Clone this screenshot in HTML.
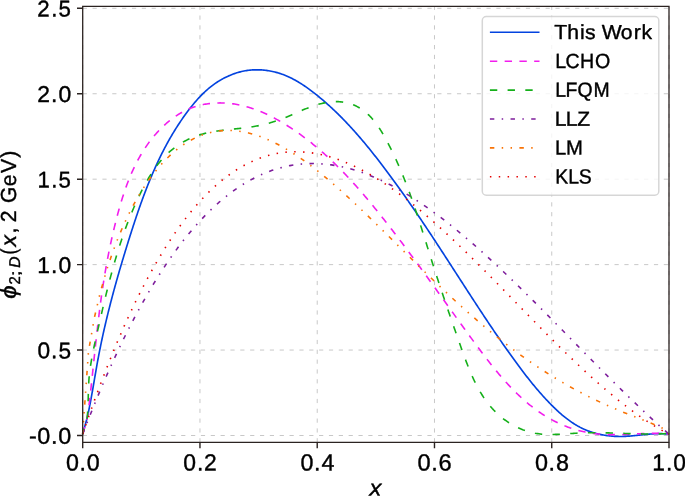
<!DOCTYPE html>
<html><head><meta charset="utf-8"><style>
html,body{margin:0;padding:0;background:#fff;width:685px;height:496px;overflow:hidden}
svg{display:block;will-change:transform}
text{font-family:"Liberation Sans",sans-serif}
</style></head><body>
<svg width="685" height="496" viewBox="0 0 685 496" font-family="Liberation Sans, sans-serif" text-rendering="geometricPrecision">
<rect width="685" height="496" fill="#fff"/>
<path d="M82.70,435.50H669.00M82.70,350.06H669.00M82.70,264.62H669.00M82.70,179.18H669.00M82.70,93.74H669.00M82.70,8.30H669.00" stroke="#c8c8c8" stroke-width="1" stroke-dasharray="4.2 5.649" fill="none"/>
<path d="M82.70,442.40V6.30M199.96,442.40V6.30M317.22,442.40V6.30M434.48,442.40V6.30M551.74,442.40V6.30M669.00,442.40V6.30" stroke="#c8c8c8" stroke-width="1" stroke-dasharray="4.2 5.63" fill="none"/>
<g fill="none" stroke-linejoin="round">
<path d="M82.60,434.30 L87.00,418.50 L87.27,417.30 L87.54,416.10 L87.81,414.89 L88.07,413.68 L88.33,412.48 L88.59,411.27 L88.84,410.06 L89.09,408.84 L89.33,407.63 L89.58,406.41 L89.82,405.20 L90.05,403.98 L90.29,402.76 L90.52,401.54 L90.75,400.32 L90.98,399.09 L91.21,397.87 L91.43,396.64 L91.65,395.42 L91.87,394.19 L92.09,392.96 L92.31,391.74 L92.53,390.51 L92.74,389.28 L92.96,388.05 L93.17,386.82 L93.38,385.59 L93.59,384.36 L93.81,383.13 L94.02,381.89 L94.23,380.66 L94.44,379.43 L94.65,378.20 L94.86,376.97 L95.07,375.74 L95.28,374.50 L95.49,373.27 L95.71,372.04 L95.92,370.81 L96.13,369.58 L96.35,368.35 L96.57,367.12 L96.78,365.89 L97.00,364.66 L97.22,363.43 L97.45,362.20 L97.67,360.97 L97.90,359.75 L98.13,358.52 L98.36,357.29 L98.59,356.07 L98.82,354.85 L99.06,353.62 L99.30,352.40 L99.54,351.18 L99.78,349.96 L100.02,348.74 L100.27,347.52 L100.52,346.30 L100.76,345.08 L101.02,343.87 L101.27,342.65 L101.52,341.43 L101.78,340.22 L102.04,339.00 L102.30,337.79 L102.56,336.58 L102.83,335.36 L103.10,334.15 L103.36,332.94 L103.63,331.73 L103.90,330.52 L104.18,329.31 L104.45,328.10 L104.73,326.89 L105.01,325.69 L105.29,324.48 L105.57,323.27 L105.85,322.07 L106.14,320.86 L106.43,319.65 L106.72,318.45 L107.01,317.25 L107.30,316.04 L107.59,314.84 L107.89,313.64 L108.18,312.43 L108.48,311.23 L108.78,310.03 L109.08,308.83 L109.39,307.63 L109.69,306.43 L110.00,305.23 L110.30,304.03 L110.61,302.83 L110.92,301.63 L111.24,300.43 L111.55,299.24 L111.87,298.04 L112.18,296.84 L112.50,295.64 L112.82,294.45 L113.14,293.25 L113.46,292.06 L113.79,290.86 L114.11,289.66 L114.44,288.47 L114.77,287.28 L115.10,286.08 L115.43,284.89 L115.76,283.69 L116.09,282.50 L116.43,281.31 L116.76,280.11 L117.10,278.92 L117.44,277.73 L117.78,276.53 L118.12,275.34 L118.46,274.15 L118.80,272.96 L119.15,271.77 L119.49,270.57 L119.84,269.38 L120.19,268.19 L120.54,267.00 L120.89,265.81 L121.24,264.62 L121.59,263.43 L121.95,262.24 L122.30,261.05 L122.66,259.85 L123.02,258.66 L123.38,257.47 L123.74,256.28 L124.10,255.09 L124.46,253.90 L124.82,252.71 L125.18,251.52 L125.55,250.33 L125.92,249.14 L126.28,247.95 L126.65,246.76 L127.02,245.57 L127.39,244.38 L127.76,243.19 L128.13,242.00 L128.50,240.81 L128.88,239.62 L129.25,238.43 L129.63,237.24 L130.00,236.05 L130.38,234.85 L130.76,233.66 L131.14,232.47 L131.52,231.28 L131.90,230.09 L132.29,228.90 L132.67,227.71 L133.06,226.52 L133.44,225.33 L133.83,224.15 L134.22,222.96 L134.62,221.77 L135.01,220.58 L135.40,219.39 L135.80,218.21 L136.20,217.02 L136.60,215.84 L137.00,214.65 L137.41,213.47 L137.81,212.28 L138.22,211.10 L138.63,209.92 L139.04,208.73 L139.45,207.55 L139.87,206.37 L140.29,205.19 L140.70,204.01 L141.13,202.84 L141.55,201.66 L141.98,200.48 L142.41,199.31 L142.84,198.14 L143.27,196.96 L143.70,195.79 L144.14,194.62 L144.58,193.45 L145.03,192.28 L145.47,191.12 L145.92,189.95 L146.37,188.79 L146.82,187.62 L147.28,186.46 L147.74,185.30 L148.20,184.14 L148.67,182.98 L149.14,181.83 L149.61,180.67 L150.08,179.52 L150.56,178.37 L151.04,177.22 L151.52,176.07 L152.00,174.92 L152.49,173.78 L152.99,172.63 L153.48,171.49 L153.98,170.35 L154.48,169.21 L154.99,168.08 L155.50,166.94 L156.01,165.81 L156.53,164.68 L157.05,163.55 L157.57,162.42 L158.10,161.30 L158.63,160.18 L159.16,159.06 L159.70,157.94 L160.24,156.82 L160.79,155.71 L161.34,154.59 L161.89,153.49 L162.45,152.38 L163.01,151.27 L163.58,150.17 L164.15,149.07 L164.72,147.97 L165.30,146.88 L165.88,145.78 L166.47,144.69 L167.06,143.61 L167.66,142.52 L168.26,141.44 L168.86,140.36 L169.47,139.28 L170.08,138.20 L170.70,137.13 L171.32,136.06 L171.95,135.00 L172.58,133.93 L173.21,132.87 L173.86,131.81 L174.50,130.76 L175.15,129.71 L175.81,128.66 L176.47,127.61 L177.13,126.57 L177.80,125.53 L178.48,124.49 L179.16,123.46 L179.84,122.43 L180.53,121.40 L181.23,120.37 L181.93,119.35 L182.64,118.34 L183.35,117.32 L184.07,116.31 L184.79,115.30 L185.52,114.30 L186.25,113.30 L186.99,112.30 L187.73,111.31 L188.48,110.32 L189.24,109.33 L190.00,108.35 L190.77,107.37 L191.54,106.39 L192.32,105.42 L193.11,104.46 L193.90,103.50 L194.71,102.55 L195.51,101.61 L196.33,100.67 L197.15,99.74 L197.99,98.81 L198.83,97.90 L199.68,96.99 L200.53,96.09 L201.40,95.20 L202.28,94.32 L203.16,93.45 L204.06,92.59 L204.96,91.74 L205.88,90.90 L206.80,90.07 L207.74,89.25 L208.69,88.45 L209.64,87.65 L210.61,86.88 L211.59,86.11 L212.58,85.36 L213.59,84.62 L214.60,83.89 L215.62,83.18 L216.65,82.48 L217.70,81.80 L218.75,81.13 L219.81,80.48 L220.89,79.85 L221.97,79.23 L223.06,78.63 L224.16,78.05 L225.27,77.48 L226.38,76.93 L227.51,76.40 L228.64,75.88 L229.78,75.39 L230.93,74.91 L232.08,74.46 L233.24,74.02 L234.41,73.60 L235.59,73.21 L236.77,72.83 L237.96,72.48 L239.15,72.14 L240.35,71.83 L241.56,71.54 L242.77,71.27 L243.98,71.03 L245.21,70.80 L246.43,70.60 L247.66,70.43 L248.89,70.27 L250.13,70.14 L251.37,70.03 L252.61,69.94 L253.86,69.88 L255.10,69.84 L256.35,69.81 L257.60,69.81 L258.84,69.84 L260.09,69.88 L261.34,69.94 L262.58,70.03 L263.83,70.14 L265.07,70.26 L266.31,70.41 L267.54,70.58 L268.78,70.77 L270.01,70.98 L271.23,71.21 L272.45,71.46 L273.67,71.73 L274.88,72.02 L276.08,72.33 L277.28,72.66 L278.47,73.01 L279.65,73.38 L280.83,73.76 L282.00,74.17 L283.16,74.59 L284.31,75.03 L285.46,75.49 L286.59,75.97 L287.72,76.46 L288.85,76.97 L289.96,77.49 L291.07,78.03 L292.18,78.59 L293.27,79.16 L294.36,79.74 L295.44,80.34 L296.52,80.95 L297.59,81.57 L298.66,82.20 L299.71,82.85 L300.77,83.50 L301.81,84.17 L302.85,84.85 L303.89,85.54 L304.92,86.24 L305.94,86.94 L306.96,87.66 L307.98,88.38 L308.99,89.11 L309.99,89.85 L310.99,90.59 L311.98,91.34 L312.97,92.10 L313.96,92.86 L314.94,93.63 L315.92,94.40 L316.89,95.18 L317.86,95.96 L318.83,96.75 L319.79,97.54 L320.75,98.33 L321.70,99.13 L322.65,99.94 L323.59,100.74 L324.53,101.55 L325.47,102.37 L326.40,103.19 L327.33,104.01 L328.26,104.84 L329.18,105.67 L330.10,106.51 L331.02,107.35 L331.93,108.19 L332.83,109.04 L333.74,109.89 L334.64,110.74 L335.54,111.60 L336.43,112.46 L337.32,113.32 L338.21,114.19 L339.09,115.06 L339.97,115.94 L340.85,116.82 L341.72,117.70 L342.59,118.58 L343.46,119.47 L344.32,120.36 L345.19,121.26 L346.04,122.15 L346.90,123.06 L347.75,123.96 L348.60,124.87 L349.45,125.77 L350.29,126.69 L351.13,127.60 L351.97,128.52 L352.80,129.44 L353.63,130.36 L354.46,131.29 L355.29,132.22 L356.11,133.15 L356.93,134.08 L357.75,135.02 L358.57,135.95 L359.38,136.89 L360.19,137.84 L361.00,138.78 L361.81,139.73 L362.61,140.68 L363.41,141.63 L364.21,142.58 L365.01,143.54 L365.80,144.50 L366.60,145.45 L367.39,146.42 L368.17,147.38 L368.96,148.34 L369.74,149.31 L370.53,150.28 L371.31,151.25 L372.08,152.22 L372.86,153.19 L373.63,154.17 L374.40,155.14 L375.18,156.12 L375.94,157.10 L376.71,158.08 L377.47,159.06 L378.24,160.04 L379.00,161.03 L379.76,162.01 L380.52,163.00 L381.27,163.99 L382.03,164.98 L382.78,165.97 L383.53,166.96 L384.29,167.95 L385.03,168.94 L385.78,169.93 L386.53,170.93 L387.27,171.92 L388.02,172.92 L388.76,173.91 L389.50,174.91 L390.24,175.91 L390.98,176.91 L391.71,177.91 L392.45,178.91 L393.18,179.91 L393.92,180.92 L394.65,181.92 L395.38,182.93 L396.11,183.93 L396.83,184.94 L397.56,185.94 L398.29,186.95 L399.01,187.96 L399.73,188.97 L400.45,189.98 L401.18,190.99 L401.89,192.00 L402.61,193.02 L403.33,194.03 L404.05,195.04 L404.76,196.06 L405.48,197.07 L406.19,198.09 L406.90,199.11 L407.61,200.13 L408.32,201.14 L409.03,202.16 L409.74,203.18 L410.44,204.20 L411.15,205.22 L411.86,206.25 L412.56,207.27 L413.26,208.29 L413.97,209.31 L414.67,210.34 L415.37,211.36 L416.07,212.39 L416.77,213.41 L417.46,214.44 L418.16,215.47 L418.86,216.50 L419.55,217.52 L420.25,218.55 L420.94,219.58 L421.64,220.61 L422.33,221.64 L423.02,222.67 L423.71,223.71 L424.40,224.74 L425.09,225.77 L425.78,226.80 L426.47,227.84 L427.16,228.87 L427.85,229.90 L428.54,230.94 L429.22,231.98 L429.91,233.01 L430.59,234.05 L431.28,235.08 L431.96,236.12 L432.65,237.16 L433.33,238.20 L434.01,239.23 L434.69,240.27 L435.38,241.31 L436.06,242.35 L436.74,243.39 L437.42,244.43 L438.10,245.47 L438.78,246.51 L439.46,247.55 L440.14,248.59 L440.82,249.64 L441.50,250.68 L442.17,251.72 L442.85,252.76 L443.53,253.80 L444.21,254.85 L444.88,255.89 L445.56,256.93 L446.24,257.98 L446.91,259.02 L447.59,260.07 L448.27,261.11 L448.94,262.16 L449.62,263.20 L450.29,264.25 L450.97,265.29 L451.65,266.34 L452.32,267.38 L453.00,268.43 L453.67,269.47 L454.35,270.52 L455.02,271.57 L455.70,272.61 L456.37,273.66 L457.05,274.70 L457.72,275.75 L458.40,276.80 L459.07,277.84 L459.75,278.89 L460.42,279.94 L461.10,280.98 L461.78,282.03 L462.45,283.07 L463.13,284.12 L463.80,285.17 L464.48,286.21 L465.16,287.26 L465.83,288.30 L466.51,289.35 L467.19,290.39 L467.86,291.44 L468.54,292.48 L469.22,293.53 L469.90,294.57 L470.58,295.62 L471.26,296.66 L471.93,297.71 L472.61,298.75 L473.29,299.79 L473.97,300.84 L474.66,301.88 L475.34,302.92 L476.02,303.96 L476.70,305.00 L477.38,306.05 L478.07,307.09 L478.75,308.13 L479.43,309.17 L480.12,310.21 L480.80,311.25 L481.49,312.28 L482.17,313.32 L482.86,314.36 L483.55,315.40 L484.23,316.43 L484.92,317.47 L485.61,318.51 L486.30,319.54 L486.99,320.58 L487.68,321.61 L488.37,322.64 L489.07,323.68 L489.76,324.71 L490.45,325.74 L491.15,326.77 L491.84,327.80 L492.54,328.83 L493.24,329.86 L493.93,330.89 L494.63,331.91 L495.33,332.94 L496.03,333.97 L496.73,334.99 L497.43,336.02 L498.14,337.04 L498.84,338.06 L499.54,339.08 L500.25,340.10 L500.96,341.12 L501.66,342.14 L502.37,343.16 L503.08,344.18 L503.79,345.20 L504.50,346.21 L505.22,347.23 L505.93,348.24 L506.64,349.25 L507.36,350.27 L508.08,351.28 L508.79,352.29 L509.51,353.29 L510.23,354.30 L510.95,355.31 L511.68,356.31 L512.40,357.32 L513.12,358.32 L513.85,359.32 L514.58,360.33 L515.31,361.33 L516.03,362.32 L516.77,363.32 L517.50,364.32 L518.23,365.31 L518.97,366.31 L519.71,367.30 L520.45,368.29 L521.19,369.28 L521.93,370.27 L522.68,371.25 L523.43,372.24 L524.18,373.22 L524.93,374.20 L525.68,375.18 L526.44,376.16 L527.20,377.13 L527.97,378.11 L528.73,379.08 L529.50,380.05 L530.28,381.02 L531.05,381.98 L531.83,382.95 L532.61,383.91 L533.40,384.87 L534.19,385.82 L534.98,386.78 L535.78,387.73 L536.58,388.68 L537.39,389.63 L538.20,390.57 L539.01,391.51 L539.83,392.45 L540.65,393.39 L541.48,394.32 L542.31,395.25 L543.14,396.18 L543.98,397.11 L544.83,398.03 L545.68,398.95 L546.54,399.87 L547.40,400.78 L548.26,401.69 L549.13,402.60 L550.01,403.51 L550.89,404.41 L551.78,405.30 L552.67,406.20 L553.57,407.08 L554.47,407.96 L555.38,408.84 L556.30,409.71 L557.22,410.57 L558.15,411.42 L559.09,412.27 L560.03,413.11 L560.97,413.94 L561.93,414.76 L562.89,415.57 L563.86,416.37 L564.83,417.16 L565.81,417.93 L566.80,418.70 L567.79,419.45 L568.80,420.20 L569.80,420.92 L570.82,421.64 L571.84,422.34 L572.87,423.02 L573.91,423.69 L574.96,424.35 L576.01,424.99 L577.07,425.61 L578.14,426.22 L579.22,426.80 L580.30,427.38 L581.40,427.93 L582.50,428.46 L583.61,428.98 L584.72,429.47 L585.85,429.95 L586.98,430.41 L588.11,430.86 L589.26,431.28 L590.41,431.69 L591.56,432.08 L592.73,432.45 L593.90,432.81 L595.07,433.15 L596.25,433.47 L597.43,433.77 L598.62,434.06 L599.82,434.33 L601.02,434.58 L602.22,434.82 L603.43,435.04 L604.64,435.25 L605.86,435.43 L607.08,435.61 L608.30,435.76 L609.52,435.90 L610.75,436.03 L611.98,436.14 L613.22,436.23 L614.45,436.31 L615.69,436.37 L616.93,436.42 L618.17,436.45 L619.42,436.47 L620.66,436.47 L621.91,436.46 L623.15,436.43 L624.40,436.39 L625.65,436.34 L626.90,436.27 L628.14,436.19 L629.39,436.10 L630.64,436.00 L631.89,435.90 L633.14,435.78 L634.39,435.66 L635.64,435.54 L636.89,435.41 L638.14,435.28 L639.39,435.14 L640.64,435.01 L641.89,434.88 L643.14,434.75 L644.38,434.62 L645.63,434.49 L646.88,434.37 L648.13,434.26 L649.37,434.15 L650.62,434.05 L651.86,433.96 L653.11,433.87 L654.35,433.80 L655.59,433.75 L656.83,433.70 L658.07,433.67 L659.31,433.65 L660.55,433.66 L661.79,433.67 L663.03,433.71 L664.26,433.77 L665.50,433.84 L666.73,433.94 L667.96,434.06 L669.20,434.21" stroke="#0343df" stroke-width="1.65"/>
<path d="M82.60,434.30 L87.10,419.00 L87.26,417.92 L87.42,416.86 L87.58,415.79 L87.73,414.73 L87.88,413.67 L88.03,412.61 L88.17,411.56 L88.31,410.50 L88.45,409.45 L88.59,408.40 L88.73,407.35 L88.86,406.30 L89.00,405.25 L89.13,404.19 L89.26,403.14 L89.39,402.08 L89.52,401.02 L89.64,399.96 L89.77,398.90 L89.89,397.83 L90.02,396.75 L90.14,395.68 L90.26,394.60 L90.38,393.51 L90.51,392.42 L90.63,391.33 L90.75,390.23 L90.87,389.13 L90.99,388.02 L91.11,386.91 L91.23,385.79 L91.35,384.67 L91.47,383.54 L91.59,382.40 L91.71,381.27 L91.84,380.12 L91.96,378.97 L92.08,377.82 L92.20,376.66 L92.33,375.50 L92.45,374.33 L92.57,373.16 L92.69,371.99 L92.82,370.81 L92.94,369.63 L93.07,368.44 L93.19,367.25 L93.32,366.06 L93.44,364.87 L93.57,363.67 L93.69,362.47 L93.82,361.27 L93.94,360.07 L94.07,358.86 L94.20,357.65 L94.33,356.44 L94.45,355.23 L94.58,354.02 L94.71,352.81 L94.84,351.59 L94.97,350.38 L95.10,349.16 L95.23,347.94 L95.36,346.73 L95.49,345.51 L95.62,344.29 L95.75,343.07 L95.89,341.86 L96.02,340.64 L96.15,339.42 L96.29,338.21 L96.42,336.99 L96.55,335.78 L96.69,334.57 L96.82,333.36 L96.96,332.15 L97.10,330.94 L97.23,329.74 L97.37,328.53 L97.51,327.33 L97.65,326.13 L97.79,324.93 L97.93,323.74 L98.07,322.55 L98.21,321.36 L98.35,320.18 L98.49,319.00 L98.63,317.82 L98.78,316.65 L98.92,315.48 L99.06,314.31 L99.21,313.15 L99.35,311.99 L99.50,310.84 L99.64,309.69 L99.79,308.54 L99.94,307.39 L100.09,306.25 L100.24,305.12 L100.39,303.98 L100.54,302.85 L100.69,301.72 L100.85,300.59 L101.00,299.46 L101.16,298.33 L101.31,297.21 L101.47,296.08 L101.63,294.96 L101.79,293.84 L101.95,292.71 L102.12,291.59 L102.28,290.47 L102.45,289.35 L102.62,288.22 L102.79,287.10 L102.96,285.97 L103.13,284.85 L103.30,283.72 L103.48,282.59 L103.66,281.46 L103.83,280.32 L104.02,279.19 L104.20,278.05 L104.38,276.91 L104.57,275.77 L104.76,274.63 L104.95,273.49 L105.14,272.34 L105.34,271.20 L105.53,270.05 L105.73,268.90 L105.93,267.75 L106.14,266.59 L106.34,265.44 L106.55,264.28 L106.76,263.13 L106.97,261.97 L107.19,260.80 L107.40,259.64 L107.62,258.48 L107.85,257.31 L108.07,256.15 L108.30,254.98 L108.53,253.81 L108.76,252.64 L109.00,251.47 L109.23,250.29 L109.47,249.12 L109.72,247.94 L109.96,246.77 L110.21,245.59 L110.46,244.41 L110.72,243.23 L110.97,242.05 L111.23,240.87 L111.49,239.68 L111.75,238.50 L112.02,237.32 L112.29,236.13 L112.56,234.95 L112.83,233.76 L113.11,232.58 L113.39,231.39 L113.67,230.20 L113.95,229.01 L114.23,227.83 L114.52,226.64 L114.81,225.45 L115.11,224.26 L115.40,223.07 L115.70,221.89 L116.00,220.70 L116.30,219.51 L116.60,218.32 L116.91,217.13 L117.22,215.95 L117.54,214.76 L117.85,213.57 L118.17,212.39 L118.50,211.20 L118.82,210.02 L119.15,208.83 L119.49,207.65 L119.82,206.47 L120.16,205.29 L120.51,204.11 L120.86,202.93 L121.21,201.76 L121.57,200.58 L121.93,199.41 L122.29,198.24 L122.66,197.07 L123.04,195.90 L123.42,194.73 L123.80,193.57 L124.19,192.41 L124.58,191.25 L124.98,190.09 L125.38,188.94 L125.79,187.78 L126.20,186.63 L126.62,185.48 L127.04,184.34 L127.47,183.20 L127.91,182.06 L128.35,180.92 L128.80,179.79 L129.25,178.66 L129.71,177.53 L130.17,176.40 L130.64,175.28 L131.12,174.17 L131.61,173.05 L132.10,171.94 L132.59,170.83 L133.10,169.73 L133.61,168.63 L134.12,167.54 L134.65,166.45 L135.18,165.36 L135.71,164.28 L136.26,163.20 L136.81,162.12 L137.37,161.05 L137.94,159.99 L138.52,158.93 L139.10,157.87 L139.69,156.82 L140.29,155.77 L140.89,154.73 L141.51,153.70 L142.13,152.67 L142.76,151.64 L143.40,150.62 L144.05,149.60 L144.71,148.59 L145.37,147.59 L146.04,146.59 L146.73,145.60 L147.42,144.61 L148.12,143.63 L148.83,142.65 L149.55,141.68 L150.28,140.72 L151.01,139.76 L151.76,138.81 L152.52,137.87 L153.28,136.93 L154.06,136.00 L154.85,135.07 L155.64,134.16 L156.45,133.24 L157.26,132.34 L158.09,131.44 L158.93,130.55 L159.77,129.67 L160.63,128.80 L161.49,127.93 L162.37,127.08 L163.25,126.23 L164.15,125.40 L165.05,124.57 L165.97,123.76 L166.89,122.95 L167.82,122.16 L168.76,121.38 L169.71,120.61 L170.67,119.85 L171.64,119.11 L172.62,118.38 L173.61,117.66 L174.60,116.95 L175.60,116.27 L176.62,115.59 L177.64,114.93 L178.67,114.28 L179.70,113.66 L180.75,113.04 L181.81,112.44 L182.87,111.86 L183.94,111.30 L185.02,110.76 L186.10,110.23 L187.20,109.72 L188.30,109.23 L189.41,108.75 L190.53,108.30 L191.66,107.87 L192.79,107.45 L193.93,107.06 L195.07,106.68 L196.23,106.32 L197.38,105.98 L198.55,105.66 L199.72,105.36 L200.89,105.07 L202.07,104.81 L203.25,104.56 L204.44,104.33 L205.63,104.12 L206.83,103.92 L208.03,103.75 L209.23,103.59 L210.44,103.45 L211.64,103.32 L212.85,103.22 L214.06,103.13 L215.28,103.05 L216.49,103.00 L217.70,102.96 L218.92,102.93 L220.14,102.92 L221.35,102.93 L222.57,102.96 L223.78,103.00 L225.00,103.06 L226.21,103.13 L227.42,103.22 L228.63,103.32 L229.84,103.44 L231.04,103.58 L232.25,103.73 L233.45,103.89 L234.64,104.07 L235.84,104.27 L237.03,104.48 L238.22,104.70 L239.40,104.94 L240.58,105.19 L241.76,105.45 L242.93,105.73 L244.11,106.03 L245.27,106.33 L246.44,106.65 L247.60,106.98 L248.76,107.32 L249.91,107.68 L251.06,108.04 L252.21,108.42 L253.36,108.81 L254.50,109.21 L255.64,109.63 L256.77,110.05 L257.90,110.49 L259.03,110.93 L260.15,111.39 L261.28,111.85 L262.39,112.33 L263.51,112.82 L264.62,113.31 L265.72,113.81 L266.83,114.33 L267.93,114.85 L269.02,115.38 L270.12,115.92 L271.21,116.47 L272.29,117.03 L273.37,117.59 L274.45,118.16 L275.53,118.74 L276.60,119.33 L277.67,119.92 L278.73,120.52 L279.79,121.13 L280.85,121.74 L281.90,122.36 L282.95,122.99 L284.00,123.62 L285.04,124.26 L286.08,124.90 L287.11,125.55 L288.14,126.20 L289.17,126.86 L290.19,127.52 L291.21,128.19 L292.23,128.86 L293.24,129.53 L294.25,130.22 L295.25,130.90 L296.25,131.59 L297.25,132.29 L298.24,132.99 L299.23,133.69 L300.22,134.40 L301.20,135.11 L302.18,135.83 L303.16,136.55 L304.13,137.28 L305.10,138.01 L306.07,138.75 L307.03,139.49 L307.99,140.23 L308.95,140.98 L309.90,141.73 L310.85,142.48 L311.80,143.24 L312.74,144.01 L313.68,144.77 L314.62,145.54 L315.55,146.32 L316.49,147.10 L317.41,147.88 L318.34,148.67 L319.26,149.46 L320.18,150.25 L321.09,151.05 L322.01,151.85 L322.92,152.65 L323.82,153.46 L324.73,154.27 L325.63,155.08 L326.53,155.90 L327.42,156.72 L328.31,157.55 L329.20,158.38 L330.09,159.21 L330.97,160.04 L331.86,160.88 L332.73,161.72 L333.61,162.56 L334.48,163.41 L335.35,164.26 L336.22,165.11 L337.09,165.96 L337.95,166.82 L338.81,167.68 L339.67,168.54 L340.52,169.41 L341.38,170.28 L342.23,171.15 L343.07,172.02 L343.92,172.90 L344.76,173.78 L345.60,174.66 L346.44,175.54 L347.28,176.43 L348.11,177.32 L348.94,178.21 L349.77,179.10 L350.60,180.00 L351.42,180.90 L352.25,181.79 L353.07,182.70 L353.89,183.60 L354.70,184.51 L355.52,185.41 L356.33,186.32 L357.14,187.24 L357.95,188.15 L358.75,189.06 L359.55,189.98 L360.36,190.90 L361.16,191.82 L361.95,192.74 L362.75,193.67 L363.55,194.59 L364.34,195.52 L365.13,196.45 L365.92,197.38 L366.70,198.31 L367.49,199.24 L368.27,200.18 L369.06,201.11 L369.84,202.05 L370.61,202.99 L371.39,203.93 L372.17,204.87 L372.94,205.81 L373.71,206.75 L374.48,207.69 L375.25,208.64 L376.02,209.58 L376.78,210.53 L377.55,211.48 L378.31,212.43 L379.07,213.37 L379.83,214.32 L380.59,215.27 L381.35,216.22 L382.11,217.18 L382.86,218.13 L383.62,219.08 L384.37,220.03 L385.12,220.99 L385.87,221.94 L386.62,222.90 L387.37,223.85 L388.11,224.81 L388.86,225.76 L389.60,226.72 L390.34,227.68 L391.09,228.63 L391.83,229.59 L392.57,230.55 L393.31,231.51 L394.04,232.47 L394.78,233.43 L395.52,234.39 L396.25,235.35 L396.98,236.31 L397.72,237.27 L398.45,238.23 L399.18,239.19 L399.91,240.16 L400.64,241.12 L401.37,242.08 L402.09,243.05 L402.82,244.01 L403.55,244.98 L404.27,245.94 L405.00,246.91 L405.72,247.87 L406.44,248.84 L407.16,249.81 L407.89,250.77 L408.61,251.74 L409.33,252.71 L410.04,253.68 L410.76,254.65 L411.48,255.62 L412.20,256.58 L412.92,257.55 L413.63,258.53 L414.35,259.50 L415.06,260.47 L415.78,261.44 L416.49,262.41 L417.20,263.38 L417.92,264.35 L418.63,265.33 L419.34,266.30 L420.05,267.27 L420.76,268.25 L421.47,269.22 L422.18,270.20 L422.89,271.17 L423.60,272.15 L424.31,273.12 L425.02,274.10 L425.73,275.08 L426.44,276.05 L427.15,277.03 L427.86,278.01 L428.56,278.98 L429.27,279.96 L429.98,280.94 L430.69,281.92 L431.39,282.90 L432.10,283.88 L432.81,284.86 L433.51,285.84 L434.22,286.82 L434.92,287.80 L435.63,288.78 L436.34,289.76 L437.04,290.74 L437.75,291.72 L438.46,292.71 L439.16,293.69 L439.87,294.67 L440.57,295.65 L441.28,296.64 L441.99,297.62 L442.69,298.60 L443.40,299.59 L444.11,300.57 L444.81,301.56 L445.52,302.54 L446.23,303.53 L446.94,304.51 L447.64,305.50 L448.35,306.48 L449.06,307.47 L449.77,308.46 L450.48,309.44 L451.19,310.43 L451.90,311.42 L452.61,312.40 L453.32,313.39 L454.03,314.38 L454.74,315.37 L455.45,316.36 L456.16,317.35 L456.87,318.33 L457.59,319.32 L458.30,320.31 L459.01,321.30 L459.73,322.29 L460.44,323.28 L461.16,324.27 L461.87,325.26 L462.59,326.25 L463.30,327.24 L464.02,328.23 L464.74,329.23 L465.46,330.22 L466.18,331.21 L466.90,332.20 L467.62,333.19 L468.34,334.18 L469.06,335.18 L469.78,336.17 L470.51,337.16 L471.23,338.15 L471.96,339.15 L472.68,340.14 L473.41,341.13 L474.14,342.13 L474.87,343.12 L475.60,344.11 L476.33,345.10 L477.06,346.10 L477.79,347.09 L478.53,348.08 L479.26,349.07 L480.00,350.06 L480.74,351.04 L481.48,352.03 L482.22,353.01 L482.97,354.00 L483.71,354.98 L484.46,355.96 L485.20,356.94 L485.95,357.92 L486.71,358.90 L487.46,359.87 L488.21,360.84 L488.97,361.81 L489.73,362.78 L490.49,363.75 L491.26,364.71 L492.02,365.67 L492.79,366.63 L493.56,367.58 L494.33,368.54 L495.11,369.49 L495.89,370.43 L496.67,371.38 L497.45,372.32 L498.23,373.26 L499.02,374.19 L499.81,375.12 L500.60,376.05 L501.40,376.97 L502.20,377.89 L503.00,378.81 L503.80,379.72 L504.61,380.63 L505.42,381.53 L506.24,382.43 L507.05,383.33 L507.87,384.22 L508.69,385.10 L509.52,385.98 L510.35,386.86 L511.18,387.73 L512.02,388.60 L512.86,389.46 L513.70,390.32 L514.55,391.17 L515.40,392.02 L516.26,392.86 L517.12,393.70 L517.98,394.53 L518.84,395.35 L519.71,396.17 L520.59,396.98 L521.46,397.79 L522.35,398.59 L523.23,399.38 L524.12,400.17 L525.02,400.95 L525.92,401.73 L526.82,402.50 L527.73,403.26 L528.64,404.01 L529.55,404.76 L530.47,405.50 L531.40,406.24 L532.33,406.97 L533.26,407.69 L534.20,408.40 L535.15,409.10 L536.10,409.80 L537.05,410.49 L538.01,411.17 L538.97,411.85 L539.94,412.51 L540.91,413.17 L541.89,413.82 L542.88,414.46 L543.87,415.10 L544.86,415.72 L545.86,416.34 L546.87,416.95 L547.88,417.54 L548.89,418.13 L549.91,418.72 L550.94,419.29 L551.97,419.85 L553.01,420.41 L554.06,420.95 L555.11,421.49 L556.16,422.01 L557.22,422.53 L558.29,423.03 L559.36,423.53 L560.43,424.02 L561.51,424.49 L562.60,424.96 L563.69,425.42 L564.78,425.87 L565.88,426.30 L566.99,426.73 L568.10,427.15 L569.21,427.55 L570.33,427.95 L571.45,428.33 L572.58,428.70 L573.71,429.07 L574.85,429.42 L575.99,429.76 L577.13,430.09 L578.28,430.41 L579.43,430.72 L580.59,431.01 L581.75,431.30 L582.91,431.57 L584.08,431.83 L585.25,432.08 L586.42,432.32 L587.60,432.55 L588.78,432.77 L589.96,432.97 L591.15,433.16 L592.34,433.34 L593.53,433.50 L594.73,433.66 L595.93,433.80 L597.13,433.93 L598.34,434.05 L599.54,434.15 L600.75,434.25 L601.97,434.33 L603.18,434.40 L604.40,434.46 L605.62,434.52 L606.84,434.56 L608.06,434.59 L609.29,434.62 L610.52,434.64 L611.74,434.65 L612.97,434.65 L614.21,434.65 L615.44,434.64 L616.67,434.62 L617.91,434.60 L619.14,434.57 L620.38,434.54 L621.62,434.50 L622.85,434.46 L624.09,434.41 L625.33,434.37 L626.57,434.32 L627.81,434.26 L629.05,434.21 L630.28,434.15 L631.52,434.10 L632.76,434.04 L634.00,433.98 L635.23,433.92 L636.47,433.87 L637.71,433.81 L638.94,433.75 L640.18,433.70 L641.41,433.65 L642.64,433.60 L643.87,433.55 L645.10,433.51 L646.32,433.47 L647.55,433.44 L648.77,433.41 L650.00,433.38 L651.22,433.37 L652.43,433.35 L653.65,433.35 L654.86,433.34 L656.07,433.35 L657.28,433.37 L658.48,433.39 L659.69,433.42 L660.89,433.46 L662.08,433.51 L663.28,433.56 L664.47,433.63 L665.65,433.71 L666.84,433.80 L668.02,433.90 L669.19,434.01" stroke="#f21ded" stroke-width="1.6" stroke-dasharray="7.378 7.378" stroke-dashoffset="-0.3"/>
<path d="M82.60,434.30 L87.20,417.80 L87.32,416.46 L87.43,415.14 L87.53,413.83 L87.63,412.53 L87.71,411.25 L87.78,409.97 L87.85,408.71 L87.91,407.46 L87.96,406.23 L88.01,405.00 L88.05,403.78 L88.09,402.57 L88.13,401.36 L88.16,400.17 L88.19,398.98 L88.22,397.80 L88.25,396.62 L88.27,395.45 L88.30,394.28 L88.33,393.12 L88.36,391.96 L88.39,390.81 L88.43,389.65 L88.47,388.50 L88.51,387.35 L88.55,386.20 L88.61,385.06 L88.66,383.91 L88.73,382.76 L88.80,381.61 L88.87,380.46 L88.96,379.30 L89.05,378.15 L89.16,376.99 L89.27,375.82 L89.39,374.66 L89.52,373.49 L89.65,372.32 L89.79,371.15 L89.95,369.97 L90.10,368.79 L90.27,367.61 L90.44,366.43 L90.62,365.24 L90.81,364.05 L91.00,362.86 L91.20,361.67 L91.40,360.48 L91.61,359.28 L91.82,358.08 L92.04,356.88 L92.27,355.68 L92.50,354.48 L92.73,353.27 L92.97,352.06 L93.21,350.86 L93.46,349.65 L93.71,348.43 L93.96,347.22 L94.22,346.01 L94.48,344.79 L94.74,343.58 L95.00,342.36 L95.27,341.14 L95.54,339.92 L95.81,338.70 L96.08,337.48 L96.36,336.26 L96.63,335.04 L96.91,333.82 L97.18,332.60 L97.46,331.37 L97.74,330.15 L98.02,328.93 L98.30,327.70 L98.58,326.48 L98.86,325.26 L99.14,324.03 L99.42,322.81 L99.70,321.58 L99.98,320.36 L100.26,319.13 L100.54,317.91 L100.82,316.68 L101.10,315.46 L101.39,314.24 L101.67,313.01 L101.96,311.79 L102.24,310.56 L102.53,309.34 L102.81,308.11 L103.10,306.89 L103.39,305.66 L103.68,304.44 L103.97,303.21 L104.26,301.99 L104.56,300.77 L104.85,299.54 L105.14,298.32 L105.44,297.10 L105.74,295.87 L106.04,294.65 L106.34,293.43 L106.64,292.20 L106.94,290.98 L107.24,289.76 L107.55,288.54 L107.86,287.32 L108.17,286.10 L108.48,284.88 L108.79,283.66 L109.10,282.44 L109.42,281.22 L109.73,280.00 L110.05,278.79 L110.37,277.57 L110.70,276.35 L111.02,275.14 L111.35,273.92 L111.67,272.70 L112.00,271.49 L112.34,270.28 L112.67,269.06 L113.01,267.85 L113.35,266.64 L113.69,265.43 L114.03,264.22 L114.38,263.01 L114.72,261.80 L115.07,260.59 L115.43,259.38 L115.78,258.18 L116.14,256.97 L116.50,255.77 L116.86,254.56 L117.23,253.36 L117.60,252.16 L117.97,250.96 L118.34,249.75 L118.72,248.56 L119.10,247.36 L119.48,246.16 L119.86,244.96 L120.25,243.77 L120.64,242.57 L121.04,241.38 L121.43,240.19 L121.83,239.00 L122.24,237.80 L122.64,236.62 L123.05,235.43 L123.46,234.24 L123.88,233.06 L124.30,231.87 L124.72,230.69 L125.15,229.51 L125.58,228.32 L126.01,227.15 L126.45,225.97 L126.89,224.79 L127.33,223.61 L127.78,222.44 L128.23,221.27 L128.69,220.10 L129.15,218.93 L129.61,217.76 L130.08,216.59 L130.55,215.42 L131.02,214.26 L131.50,213.10 L131.98,211.93 L132.47,210.77 L132.96,209.62 L133.46,208.46 L133.96,207.30 L134.46,206.15 L134.97,205.00 L135.48,203.85 L136.00,202.70 L136.52,201.55 L137.04,200.41 L137.57,199.26 L138.11,198.12 L138.65,196.98 L139.19,195.84 L139.74,194.70 L140.29,193.57 L140.85,192.44 L141.41,191.30 L141.98,190.18 L142.55,189.05 L143.13,187.93 L143.71,186.81 L144.30,185.69 L144.90,184.58 L145.50,183.47 L146.11,182.37 L146.73,181.27 L147.35,180.18 L147.98,179.09 L148.62,178.01 L149.27,176.93 L149.92,175.86 L150.58,174.80 L151.25,173.74 L151.93,172.69 L152.62,171.65 L153.31,170.62 L154.02,169.59 L154.73,168.57 L155.45,167.56 L156.19,166.56 L156.93,165.56 L157.68,164.58 L158.44,163.61 L159.21,162.64 L160.00,161.69 L160.79,160.74 L161.60,159.81 L162.41,158.89 L163.24,157.97 L164.08,157.07 L164.93,156.19 L165.79,155.31 L166.66,154.45 L167.55,153.59 L168.45,152.76 L169.36,151.93 L170.29,151.12 L171.22,150.32 L172.18,149.54 L173.14,148.77 L174.12,148.01 L175.11,147.27 L176.11,146.54 L177.12,145.83 L178.14,145.13 L179.18,144.45 L180.23,143.78 L181.28,143.13 L182.35,142.50 L183.43,141.88 L184.52,141.28 L185.61,140.69 L186.72,140.12 L187.83,139.56 L188.95,139.03 L190.08,138.51 L191.22,138.00 L192.36,137.52 L193.51,137.05 L194.67,136.60 L195.84,136.16 L197.01,135.75 L198.18,135.35 L199.36,134.97 L200.55,134.61 L201.74,134.26 L202.94,133.93 L204.14,133.61 L205.35,133.31 L206.56,133.02 L207.78,132.75 L209.00,132.49 L210.22,132.24 L211.44,132.00 L212.67,131.77 L213.91,131.55 L215.14,131.35 L216.38,131.15 L217.63,130.96 L218.87,130.78 L220.12,130.60 L221.36,130.44 L222.62,130.27 L223.87,130.12 L225.12,129.97 L226.38,129.82 L227.63,129.68 L228.89,129.54 L230.15,129.40 L231.41,129.27 L232.67,129.13 L233.93,129.00 L235.19,128.87 L236.45,128.74 L237.70,128.60 L238.96,128.47 L240.22,128.33 L241.48,128.19 L242.73,128.05 L243.99,127.90 L245.24,127.75 L246.49,127.59 L247.74,127.43 L248.99,127.26 L250.23,127.08 L251.48,126.90 L252.72,126.71 L253.95,126.51 L255.19,126.30 L256.42,126.08 L257.65,125.85 L258.87,125.61 L260.09,125.36 L261.31,125.09 L262.52,124.82 L263.73,124.53 L264.94,124.23 L266.14,123.93 L267.34,123.61 L268.54,123.28 L269.73,122.93 L270.92,122.58 L272.11,122.22 L273.30,121.85 L274.48,121.47 L275.67,121.08 L276.85,120.68 L278.03,120.27 L279.20,119.85 L280.38,119.42 L281.55,118.98 L282.72,118.54 L283.90,118.08 L285.07,117.62 L286.24,117.15 L287.40,116.67 L288.57,116.18 L289.74,115.69 L290.91,115.19 L292.08,114.69 L293.24,114.18 L294.41,113.67 L295.58,113.16 L296.75,112.64 L297.92,112.13 L299.09,111.62 L300.27,111.11 L301.44,110.60 L302.62,110.10 L303.80,109.60 L304.99,109.11 L306.17,108.63 L307.36,108.15 L308.55,107.68 L309.75,107.22 L310.95,106.78 L312.15,106.34 L313.36,105.92 L314.57,105.51 L315.78,105.12 L317.01,104.74 L318.23,104.38 L319.46,104.04 L320.70,103.72 L321.94,103.41 L323.19,103.13 L324.44,102.87 L325.69,102.63 L326.94,102.41 L328.20,102.22 L329.46,102.05 L330.72,101.91 L331.98,101.80 L333.24,101.71 L334.49,101.66 L335.75,101.63 L337.00,101.63 L338.25,101.67 L339.50,101.73 L340.74,101.83 L341.98,101.96 L343.21,102.13 L344.44,102.33 L345.66,102.56 L346.87,102.83 L348.07,103.13 L349.26,103.46 L350.43,103.82 L351.60,104.21 L352.75,104.63 L353.89,105.08 L355.01,105.57 L356.12,106.08 L357.21,106.62 L358.28,107.19 L359.33,107.78 L360.37,108.41 L361.38,109.06 L362.38,109.74 L363.36,110.45 L364.32,111.17 L365.26,111.93 L366.19,112.70 L367.10,113.50 L367.99,114.32 L368.87,115.17 L369.73,116.03 L370.58,116.91 L371.41,117.81 L372.23,118.73 L373.03,119.67 L373.82,120.62 L374.60,121.59 L375.37,122.58 L376.12,123.58 L376.86,124.59 L377.59,125.62 L378.31,126.66 L379.02,127.71 L379.72,128.77 L380.41,129.85 L381.08,130.93 L381.75,132.02 L382.41,133.12 L383.07,134.23 L383.71,135.34 L384.35,136.46 L384.98,137.58 L385.60,138.71 L386.22,139.85 L386.83,140.98 L387.43,142.12 L388.03,143.26 L388.62,144.40 L389.21,145.54 L389.80,146.69 L390.37,147.83 L390.95,148.98 L391.52,150.13 L392.08,151.28 L392.64,152.43 L393.20,153.58 L393.75,154.73 L394.29,155.88 L394.84,157.04 L395.37,158.19 L395.91,159.35 L396.44,160.51 L396.96,161.67 L397.48,162.83 L398.00,163.99 L398.51,165.15 L399.02,166.32 L399.52,167.48 L400.02,168.65 L400.52,169.81 L401.01,170.98 L401.50,172.15 L401.98,173.32 L402.47,174.49 L402.95,175.66 L403.42,176.83 L403.89,178.01 L404.36,179.18 L404.82,180.35 L405.29,181.53 L405.74,182.71 L406.20,183.88 L406.65,185.06 L407.10,186.24 L407.55,187.42 L407.99,188.60 L408.43,189.78 L408.87,190.96 L409.30,192.14 L409.74,193.32 L410.17,194.51 L410.59,195.69 L411.02,196.88 L411.44,198.06 L411.86,199.25 L412.28,200.43 L412.69,201.62 L413.11,202.81 L413.52,203.99 L413.93,205.18 L414.33,206.37 L414.74,207.56 L415.14,208.75 L415.54,209.94 L415.94,211.13 L416.34,212.32 L416.74,213.51 L417.13,214.70 L417.52,215.89 L417.92,217.09 L418.31,218.28 L418.69,219.47 L419.08,220.66 L419.47,221.86 L419.85,223.05 L420.24,224.24 L420.62,225.44 L421.00,226.63 L421.38,227.83 L421.76,229.02 L422.14,230.21 L422.52,231.41 L422.90,232.60 L423.27,233.80 L423.65,234.99 L424.03,236.19 L424.40,237.38 L424.78,238.58 L425.15,239.77 L425.53,240.97 L425.90,242.16 L426.27,243.36 L426.65,244.55 L427.02,245.74 L427.39,246.94 L427.77,248.13 L428.14,249.33 L428.51,250.52 L428.89,251.71 L429.26,252.91 L429.64,254.10 L430.01,255.29 L430.39,256.49 L430.76,257.68 L431.14,258.87 L431.52,260.06 L431.89,261.26 L432.27,262.45 L432.65,263.64 L433.03,264.83 L433.41,266.02 L433.79,267.21 L434.18,268.40 L434.56,269.59 L434.94,270.78 L435.33,271.97 L435.71,273.16 L436.10,274.35 L436.49,275.53 L436.87,276.72 L437.26,277.91 L437.65,279.10 L438.04,280.29 L438.43,281.48 L438.82,282.66 L439.21,283.85 L439.61,285.04 L440.00,286.23 L440.39,287.42 L440.79,288.60 L441.18,289.79 L441.58,290.98 L441.98,292.17 L442.38,293.36 L442.77,294.54 L443.17,295.73 L443.57,296.92 L443.97,298.11 L444.37,299.30 L444.78,300.49 L445.18,301.68 L445.58,302.87 L445.99,304.06 L446.39,305.25 L446.80,306.44 L447.20,307.63 L447.61,308.82 L448.02,310.01 L448.43,311.20 L448.84,312.39 L449.24,313.59 L449.65,314.78 L450.07,315.97 L450.48,317.17 L450.89,318.36 L451.30,319.55 L451.72,320.75 L452.13,321.94 L452.55,323.14 L452.96,324.34 L453.38,325.53 L453.79,326.73 L454.21,327.93 L454.63,329.13 L455.05,330.33 L455.47,331.53 L455.89,332.73 L456.31,333.93 L456.73,335.13 L457.15,336.34 L457.58,337.54 L458.00,338.74 L458.43,339.95 L458.85,341.15 L459.28,342.36 L459.70,343.57 L460.13,344.77 L460.56,345.98 L460.98,347.19 L461.41,348.40 L461.84,349.61 L462.27,350.82 L462.71,352.03 L463.14,353.24 L463.58,354.45 L464.02,355.66 L464.46,356.87 L464.91,358.08 L465.35,359.28 L465.81,360.49 L466.26,361.69 L466.72,362.89 L467.18,364.08 L467.65,365.28 L468.12,366.47 L468.59,367.66 L469.07,368.84 L469.56,370.03 L470.05,371.20 L470.54,372.38 L471.04,373.55 L471.55,374.72 L472.06,375.88 L472.58,377.04 L473.11,378.19 L473.64,379.34 L474.18,380.48 L474.73,381.61 L475.29,382.75 L475.85,383.87 L476.42,384.99 L477.00,386.10 L477.59,387.21 L478.18,388.30 L478.79,389.40 L479.40,390.48 L480.02,391.56 L480.66,392.63 L481.30,393.69 L481.95,394.74 L482.61,395.78 L483.28,396.82 L483.97,397.85 L484.66,398.86 L485.37,399.87 L486.08,400.87 L486.81,401.86 L487.55,402.84 L488.31,403.81 L489.07,404.77 L489.85,405.72 L490.64,406.66 L491.44,407.58 L492.25,408.50 L493.08,409.40 L493.92,410.30 L494.78,411.18 L495.65,412.05 L496.53,412.90 L497.42,413.74 L498.33,414.58 L499.24,415.39 L500.17,416.20 L501.11,416.99 L502.07,417.76 L503.03,418.52 L504.01,419.27 L504.99,420.00 L505.99,420.72 L507.00,421.42 L508.02,422.11 L509.05,422.78 L510.09,423.43 L511.14,424.07 L512.20,424.70 L513.27,425.30 L514.35,425.89 L515.44,426.46 L516.54,427.01 L517.64,427.55 L518.76,428.06 L519.88,428.56 L521.02,429.04 L522.16,429.50 L523.31,429.95 L524.47,430.37 L525.63,430.77 L526.81,431.15 L527.99,431.52 L529.18,431.86 L530.37,432.18 L531.57,432.48 L532.78,432.76 L534.00,433.02 L535.22,433.26 L536.45,433.47 L537.68,433.66 L538.92,433.83 L540.17,433.98 L541.42,434.11 L542.68,434.21 L543.94,434.30 L545.21,434.37 L546.48,434.43 L547.75,434.47 L549.03,434.49 L550.31,434.50 L551.59,434.50 L552.88,434.48 L554.17,434.45 L555.46,434.42 L556.75,434.37 L558.05,434.32 L559.34,434.25 L560.64,434.18 L561.94,434.11 L563.23,434.03 L564.53,433.95 L565.83,433.87 L567.13,433.78 L568.42,433.69 L569.72,433.61 L571.01,433.52 L572.30,433.44 L573.59,433.36 L574.88,433.28 L576.16,433.21 L577.44,433.15 L578.72,433.09 L580.00,433.03 L581.27,432.98 L582.54,432.94 L583.81,432.89 L585.08,432.86 L586.34,432.83 L587.61,432.80 L588.87,432.78 L590.13,432.76 L591.39,432.74 L592.64,432.73 L593.90,432.73 L595.15,432.72 L596.41,432.72 L597.66,432.73 L598.91,432.74 L600.16,432.75 L601.41,432.76 L602.66,432.78 L603.91,432.80 L605.15,432.83 L606.40,432.86 L607.64,432.89 L608.89,432.92 L610.13,432.95 L611.38,432.99 L612.62,433.02 L613.87,433.06 L615.11,433.10 L616.36,433.14 L617.60,433.19 L618.84,433.23 L620.09,433.27 L621.33,433.32 L622.57,433.36 L623.82,433.41 L625.06,433.45 L626.31,433.49 L627.55,433.54 L628.80,433.58 L630.04,433.62 L631.29,433.66 L632.54,433.70 L633.78,433.74 L635.03,433.77 L636.28,433.81 L637.53,433.84 L638.78,433.87 L640.03,433.90 L641.29,433.92 L642.54,433.94 L643.79,433.96 L645.05,433.98 L646.31,433.99 L647.56,434.00 L648.82,434.00 L650.08,434.00 L651.35,434.00 L652.61,433.99 L653.88,433.98 L655.14,433.96 L656.41,433.94 L657.68,433.91 L658.95,433.88 L660.23,433.84 L661.50,433.79 L662.78,433.74 L664.06,433.69 L665.34,433.63 L666.63,433.56 L667.91,433.48 L669.20,433.40" stroke="#15b01a" stroke-width="1.6" stroke-dasharray="7.375 10.325" stroke-dashoffset="1.7"/>
<path d="M82.60,434.30 L88.52,419.02 L94.45,404.27 L100.37,390.02 L106.30,376.27 L112.22,363.02 L118.15,350.27 L124.07,338.00 L129.99,326.21 L135.92,314.89 L141.84,304.04 L147.77,293.64 L153.69,283.70 L159.62,274.21 L165.54,265.16 L171.46,256.54 L177.39,248.35 L183.31,240.58 L189.24,233.23 L195.16,226.28 L201.08,219.74 L207.01,213.60 L212.93,207.84 L218.86,202.47 L224.78,197.47 L230.71,192.85 L236.63,188.59 L242.55,184.69 L248.48,181.14 L254.40,177.94 L260.33,175.08 L266.25,172.54 L272.18,170.34 L278.10,168.46 L284.02,166.89 L289.95,165.62 L295.87,164.66 L301.80,163.99 L307.72,163.62 L313.65,163.52 L319.57,163.70 L325.49,164.15 L331.42,164.86 L337.34,165.83 L343.27,167.05 L349.19,168.51 L355.12,170.21 L361.04,172.15 L366.96,174.30 L372.89,176.68 L378.81,179.27 L384.74,182.07 L390.66,185.06 L396.58,188.25 L402.51,191.62 L408.43,195.18 L414.36,198.91 L420.28,202.81 L426.21,206.87 L432.13,211.09 L438.05,215.45 L443.98,219.96 L449.90,224.60 L455.83,229.37 L461.75,234.27 L467.68,239.29 L473.60,244.41 L479.52,249.64 L485.45,254.97 L491.37,260.39 L497.30,265.90 L503.22,271.48 L509.15,277.14 L515.07,282.86 L520.99,288.65 L526.92,294.49 L532.84,300.37 L538.77,306.30 L544.69,312.26 L550.62,318.25 L556.54,324.27 L562.46,330.30 L568.39,336.33 L574.31,342.38 L580.24,348.41 L586.16,354.44 L592.08,360.46 L598.01,366.45 L603.93,372.41 L609.86,378.34 L615.78,384.22 L621.71,390.06 L627.63,395.85 L633.55,401.57 L639.48,407.23 L645.40,412.82 L651.33,418.32 L657.25,423.74 L663.18,429.07 L669.10,434.30" stroke="#7e1e9c" stroke-width="1.6" stroke-dasharray="4.425 7.375 1.475 7.375" stroke-dashoffset="-0.3"/>
<path d="M82.60,434.30 L88.52,351.13 L94.45,317.38 L100.37,292.04 L106.30,271.21 L112.22,253.38 L118.15,237.77 L124.07,223.93 L129.99,211.56 L135.92,200.45 L141.84,190.47 L147.77,181.49 L153.69,173.42 L159.62,166.20 L165.54,159.77 L171.46,154.08 L177.39,149.08 L183.31,144.75 L189.24,141.04 L195.16,137.93 L201.08,135.39 L207.01,133.40 L212.93,131.93 L218.86,130.96 L224.78,130.48 L230.71,130.45 L236.63,130.86 L242.55,131.69 L248.48,132.93 L254.40,134.54 L260.33,136.52 L266.25,138.85 L272.18,141.51 L278.10,144.47 L284.02,147.74 L289.95,151.27 L295.87,155.07 L301.80,159.11 L307.72,163.38 L313.65,167.85 L319.57,172.52 L325.49,177.37 L331.42,182.38 L337.34,187.54 L343.27,192.84 L349.19,198.24 L355.12,203.76 L361.04,209.36 L366.96,215.04 L372.89,220.78 L378.81,226.57 L384.74,232.40 L390.66,238.25 L396.58,244.12 L402.51,249.99 L408.43,255.86 L414.36,261.70 L420.28,267.52 L426.21,273.30 L432.13,279.04 L438.05,284.73 L443.98,290.35 L449.90,295.91 L455.83,301.39 L461.75,306.79 L467.68,312.10 L473.60,317.33 L479.52,322.45 L485.45,327.48 L491.37,332.40 L497.30,337.21 L503.22,341.91 L509.15,346.49 L515.07,350.96 L520.99,355.31 L526.92,359.55 L532.84,363.66 L538.77,367.65 L544.69,371.52 L550.62,375.28 L556.54,378.91 L562.46,382.42 L568.39,385.82 L574.31,389.10 L580.24,392.27 L586.16,395.33 L592.08,398.27 L598.01,401.12 L603.93,403.87 L609.86,406.52 L615.78,409.08 L621.71,411.56 L627.63,413.98 L633.55,416.33 L639.48,418.64 L645.40,420.94 L651.33,423.27 L657.25,425.72 L663.18,428.52 L669.10,434.30" stroke="#f97306" stroke-width="1.6" stroke-dasharray="4.425 7.375 1.475 7.375 1.475 7.375" stroke-dashoffset="-0.2"/>
<path d="M82.60,434.30 L88.52,417.01 L94.45,400.37 L100.37,384.36 L106.30,368.96 L112.22,354.18 L118.15,340.01 L124.07,326.43 L129.99,313.44 L135.92,301.02 L141.84,289.17 L147.77,277.89 L153.69,267.15 L159.62,256.96 L165.54,247.30 L171.46,238.16 L177.39,229.54 L183.31,221.43 L189.24,213.81 L195.16,206.68 L201.08,200.04 L207.01,193.86 L212.93,188.15 L218.86,182.89 L224.78,178.07 L230.71,173.69 L236.63,169.74 L242.55,166.20 L248.48,163.07 L254.40,160.35 L260.33,158.01 L266.25,156.06 L272.18,154.48 L278.10,153.26 L284.02,152.41 L289.95,151.89 L295.87,151.72 L301.80,151.87 L307.72,152.35 L313.65,153.13 L319.57,154.22 L325.49,155.60 L331.42,157.27 L337.34,159.21 L343.27,161.42 L349.19,163.89 L355.12,166.61 L361.04,169.56 L366.96,172.75 L372.89,176.16 L378.81,179.79 L384.74,183.62 L390.66,187.64 L396.58,191.86 L402.51,196.25 L408.43,200.81 L414.36,205.53 L420.28,210.40 L426.21,215.41 L432.13,220.56 L438.05,225.84 L443.98,231.23 L449.90,236.72 L455.83,242.32 L461.75,248.00 L467.68,253.77 L473.60,259.60 L479.52,265.50 L485.45,271.45 L491.37,277.45 L497.30,283.49 L503.22,289.55 L509.15,295.63 L515.07,301.72 L520.99,307.81 L526.92,313.89 L532.84,319.95 L538.77,325.99 L544.69,332.00 L550.62,337.96 L556.54,343.86 L562.46,349.71 L568.39,355.49 L574.31,361.18 L580.24,366.79 L586.16,372.30 L592.08,377.71 L598.01,383.00 L603.93,388.16 L609.86,393.20 L615.78,398.09 L621.71,402.83 L627.63,407.42 L633.55,411.83 L639.48,416.07 L645.40,420.12 L651.33,423.98 L657.25,427.64 L663.18,431.08 L669.10,434.30" stroke="#e50000" stroke-width="1.6" stroke-dasharray="1.475 7.375" stroke-dashoffset="-0.45"/>
</g>
<path d="M82.7,6.3H669.0V442.4H82.7Z" stroke="#2b2321" stroke-width="1.3" fill="none" stroke-linejoin="miter"/>
<path d="M77.0,435.50H82.7M77.0,350.06H82.7M77.0,264.62H82.7M77.0,179.18H82.7M77.0,93.74H82.7M77.0,8.30H82.7M82.70,442.4V448.2M199.96,442.4V448.2M317.22,442.4V448.2M434.48,442.4V448.2M551.74,442.4V448.2M669.00,442.4V448.2" stroke="#2b2321" stroke-width="1.4" fill="none"/>
<g fill="#000" stroke="#000" stroke-width="0.4" stroke-linejoin="round">
<text transform="translate(28.88,443.80) rotate(0.05) scale(0.9979,0.9770)" x="0.05 8.42 22.19 29.46" font-size="23.38">-0.0</text>
<text transform="translate(37.35,358.36) rotate(0.05) scale(0.9689,0.9770)" x="0.13 14.21 21.71" font-size="23.38">0.5</text>
<text transform="translate(37.46,272.92) rotate(0.05) scale(0.9751,0.9770)" x="-0.14 13.98 21.50" font-size="23.38">1.0</text>
<text transform="translate(37.51,187.48) rotate(0.05) scale(0.9516,0.9770)" x="-0.01 14.37 22.07" font-size="23.31">1.5</text>
<text transform="translate(37.24,102.04) rotate(0.05) scale(0.9783,0.9770)" x="-0.12 14.15 21.63" font-size="23.38">2.0</text>
<text transform="translate(37.27,16.60) rotate(0.05) scale(0.9524,0.9770)" x="0.02 14.59 22.27" font-size="23.38">2.5</text>
<text transform="translate(65.90,470.40) rotate(0.05) scale(0.9941,1.0000)" x="-0.01 13.79 21.10" font-size="23.38">0.0</text>
<text transform="translate(183.17,470.40) rotate(0.05) scale(0.9783,1.0000)" x="0.08 14.05 21.24" font-size="23.38">0.2</text>
<text transform="translate(300.42,470.40) rotate(0.05) scale(0.9941,1.0000)" x="-0.01 13.79 21.10" font-size="23.38">0.4</text>
<text transform="translate(417.66,470.40) rotate(0.05) scale(1.0096,1.0000)" x="-0.10 13.55 20.69" font-size="23.38">0.6</text>
<text transform="translate(534.93,470.40) rotate(0.05) scale(0.9990,1.0000)" x="-0.04 13.71 20.97" font-size="23.38">0.8</text>
<text transform="translate(652.34,470.40) rotate(0.05) scale(0.9751,1.0000)" x="-0.14 13.98 21.50" font-size="23.38">1.0</text>
<text transform="translate(369.55,495.50) rotate(0.05) scale(1.0622,1.0000)" font-size="22.26" font-style="italic">x</text>
<g transform="rotate(-90)">
<text transform="translate(-298.68,16.10) rotate(0.05) scale(1.0957,1.0000)" font-size="22.02" font-style="italic">ϕ</text>
<text transform="translate(-284.55,20.00) rotate(0.05) scale(0.9559,1.0000)" font-size="15.63">2</text>
<text transform="translate(-276.23,20.00) rotate(0.05) scale(1.4894,1.0000)" font-size="14.39">;</text>
<text transform="translate(-267.68,20.00) rotate(0.05) scale(0.9955,1.0000)" font-size="15.58" font-style="italic">D</text>
<text transform="translate(0,16.10) rotate(0.05) scale(0.8072,1.0000)" x="-315.30" font-size="21.78">(</text>
<text transform="translate(0,16.10) rotate(0.05) scale(1.0622,1.0000)" x="-232.02" font-size="21.53" font-style="italic">x</text>
<text transform="translate(0,16.10) rotate(0.05) scale(0.9706,1.0000)" x="-240.62 -234.57 -228.97 -216.86 -209.27 -192.01 -178.20 -162.41" font-size="21.78">, 2 GeV)</text>
</g>
</g>
<rect x="482.3" y="16.5" width="176.5" height="178.7" rx="4" ry="4" fill="#fff" fill-opacity="0.8" stroke="#cccccc" stroke-opacity="0.8" stroke-width="1.47"/>
<g fill="none">
<path d="M489.9,32.30H539.5" stroke="#0343df" stroke-width="1.6"/>
<path d="M489.9,61.20H539.5" stroke="#f21ded" stroke-width="1.6" stroke-dasharray="7.378 7.378"/>
<path d="M489.9,90.10H539.5" stroke="#15b01a" stroke-width="1.6" stroke-dasharray="7.375 10.325"/>
<path d="M489.9,119.00H539.5" stroke="#7e1e9c" stroke-width="1.6" stroke-dasharray="4.425 7.375 1.475 7.375"/>
<path d="M489.9,147.90H539.5" stroke="#f97306" stroke-width="1.6" stroke-dasharray="4.425 7.375 1.475 7.375 1.475 7.375"/>
<path d="M489.9,176.80H539.5" stroke="#e50000" stroke-width="1.6" stroke-dasharray="1.475 7.375"/>
</g>
<g fill="#000" stroke="#000" stroke-width="0.4" stroke-linejoin="round">
<text transform="translate(554.07,39.00) rotate(0.05) scale(1.0092,0.9670)" x="0.18 13.10 25.63 30.76 41.25 47.22 66.00 78.85 86.68" font-size="20.97">This Work</text>
<text transform="translate(554.95,67.90) rotate(0.05) scale(0.9231,0.9670)" x="0.23 11.46 27.28 43.37" font-size="21.26">LCHO</text>
<text transform="translate(554.97,96.80) rotate(0.05) scale(0.9132,0.9670)" x="0.28 11.59 24.75 42.23" font-size="21.26">LFQM</text>
<text transform="translate(554.84,125.70) rotate(0.05) scale(0.9918,0.9670)" x="-0.10 11.14 22.66" font-size="21.19">LLZ</text>
<text transform="translate(554.91,154.60) rotate(0.05) scale(0.9529,0.9670)" x="0.09 11.61" font-size="21.19">LM</text>
<text transform="translate(554.97,183.50) rotate(0.05) scale(0.9142,0.9670)" x="0.23 14.62 26.10" font-size="21.26">KLS</text>
</g>
</svg>
</body></html>
